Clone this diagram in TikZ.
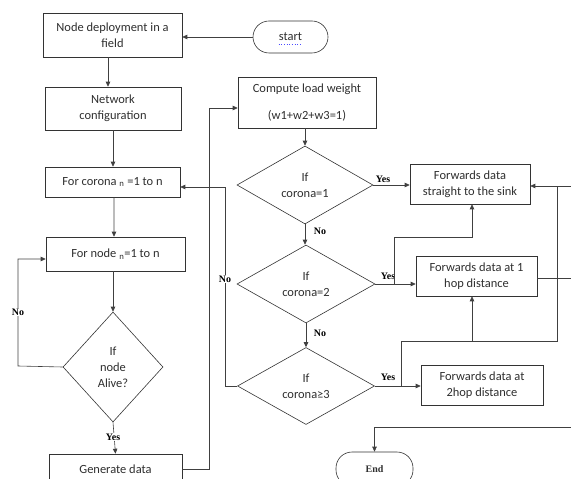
\documentclass[tikz,border=0pt]{standalone}
\usepackage{fontspec}
\setmainfont{Carlito}
\newfontfamily\serifl{Liberation Serif}
\usetikzlibrary{shapes.geometric,arrows.meta,calc}
\begin{document}
\begin{tikzpicture}[x=1bp,y=-1bp,
  every node/.style={font=\fontsize{12.5}{16}\selectfont, inner sep=0pt, text=black!82},
  box/.style={draw=black!80, line width=0.6pt, rectangle, align=center},
  dia/.style={draw=black!80, line width=0.6pt, diamond, align=center, inner sep=0pt},
  lbl/.style={font=\serifl\bfseries\fontsize{10}{12}\selectfont, inner sep=1pt, text=black},
  conn/.style={draw=black!75, line width=0.6pt},
  arr/.style={conn, -{Triangle[length=5pt,width=4.5pt]}},
]
\useasboundingbox (0,0) rectangle (571,479);
\clip (0,0) rectangle (571,479);
% nodes
\node[box, minimum width=139bp, minimum height=44bp] (n1) at (112.5,35) {Node deployment in a\\field};
\node[box, minimum width=136bp, minimum height=43bp] (n2) at (113,108.5) {Network\\configuration};
\node[box, minimum width=135bp, minimum height=30bp] (n3) at (112.5,182) {For corona \textsubscript{n} =1 to n};
\node[box, minimum width=139bp, minimum height=34bp] (n4) at (115.5,254) {For node \textsubscript{n}=1 to n};
\node[dia, minimum width=100bp, minimum height=110bp] (dn) at (113,367) {If\\node\\Alive?};
\node[box, minimum width=133bp, minimum height=30bp] (gd) at (115.5,469) {Generate data};
\node[box, rounded corners=16bp, minimum width=75bp, minimum height=32bp] (st) at (290.5,37) {start};
\node[box, minimum width=138bp, minimum height=51bp] (cp) at (307,102.5) {Compute load weight\\[11bp](w1+w2+w3=1)};
\node[dia, minimum width=136bp, minimum height=78bp] (d1) at (305,185) {If\\corona=1};
\node[dia, minimum width=138bp, minimum height=78bp] (d2) at (306,284) {If\\corona=2};
\node[dia, minimum width=137bp, minimum height=77bp] (d3) at (306,386) {If\\corona≥3};
\node[box, minimum width=120bp, minimum height=40bp] (f1) at (470,184) {Forwards data\\straight to the sink};
\node[box, minimum width=121bp, minimum height=40bp] (f2) at (476.5,276) {Forwards data at 1\\hop distance};
\node[box, minimum width=122bp, minimum height=40bp] (f3) at (482,385) {Forwards data at\\2hop distance};
\node[box, rounded corners=16bp, minimum width=77bp, minimum height=34bp] (en) at (374.5,469) {\serifl\bfseries\fontsize{10}{12}\selectfont End};
% spell-check underline
\draw[blue!70, dotted, line width=0.7pt] ($(st.center)+(-12,7)$) -- ($(st.center)+(12,7)$);
% coordinates
\coordinate (c1) at (18,366);
\coordinate (c2) at (18,259);
\coordinate (c3) at (209,469);
\coordinate (c4) at (209,108);
\coordinate (c5) at (225,386);
\coordinate (c6) at (225,187);
\coordinate (b1) at (394,284);
\coordinate (b2) at (394,237);
\coordinate (b3) at (472,237);
\coordinate (b4) at (401,386);
\coordinate (b5) at (401,341);
\coordinate (b6) at (557,341);
\coordinate (b7) at (557,186);
\coordinate (b8) at (472,341);
\coordinate (e1) at (571,186);
\coordinate (e2) at (571,278);
\coordinate (e3) at (571,427);
% connectors
\draw[arr] (st.west) -- (st.west -| n1.east);
\draw[arr] ([xshift=-4.5bp]n1.south) -- ([xshift=-5bp]n2.north);
\draw[arr] (n2.south) -- (n2.south |- n3.north);
\draw[arr] ([xshift=1.5bp]n3.south) -- ([xshift=-1.5bp]n4.north);
\draw[arr] (dn.north |- n4.south) -- (dn.north);
\draw[arr] (dn.south) -- (gd.north);
\node[lbl, fill=white] (yA) at (113,437) {Yes};
\draw[arr] (dn.west) -- (c1) -- (c2) -- (c2 -| n4.west);
\node[lbl, fill=white] (noA) at (18,312) {No};
\draw[arr] (gd.east) -- (c3) -- (c4) -- (c4 -| cp.west);
\draw[arr] (d1.north |- cp.south) -- (d1.north);
\draw[arr] (d1.east) -- (d1.east -| f1.west);
\node[lbl] (y1) at (383,179) {Yes};
\draw[arr] (d1.south) -- (d1.south |- d2.north);
\node[lbl] (no1) at (320,231) {No};
\draw[arr] (d2.south) -- (d2.south |- d3.north);
\node[lbl] (no2) at (320,333) {No};
\draw[arr] (d2.east) -- (d2.east -| f2.west);
\node[lbl] (y2) at (388,276) {Yes};
\draw[arr] (b1) -- (b2) -- (b3) -- (b3 |- f1.south);
\draw[arr] (d3.east) -- (d3.east -| f3.west);
\node[lbl] (y3) at (388,377) {Yes};
\draw[conn] (b4) -- (b5) -- (b6) -- (b7);
\draw[arr] (b8) -- (b8 |- f2.south);
\draw[arr] (e1) -- (e1 -| f1.east);
\draw[conn] (e2 -| f2.east) -- (e2);
\draw[arr] (e3) -- (e3 -| en.north) -- (en.north);
\draw[arr] (d3.west) -- (c5) -- (c6) -- (c6 -| n3.east);
\node[lbl, fill=white] (no3) at (225,279) {No};
\end{tikzpicture}
\end{document}
